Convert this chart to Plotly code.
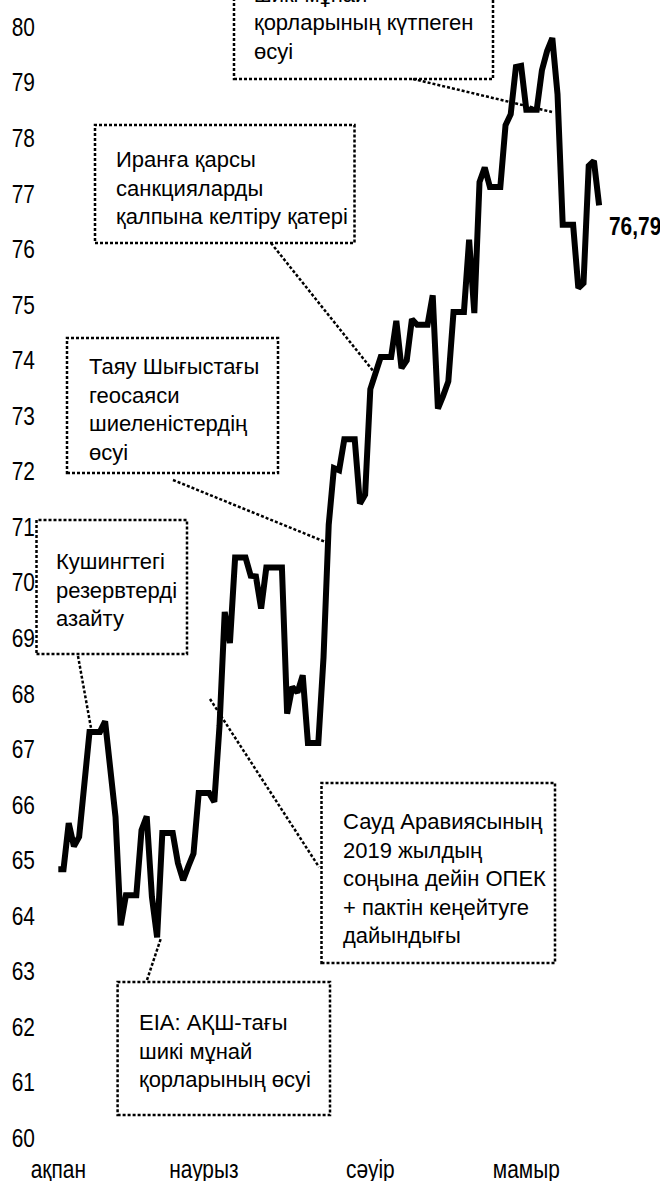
import pandas as pd
import plotly.graph_objects as go

# ---------------- data ----------------
start_date = "2018-02-17"
prices_feb = [64.84, 64.84, 65.67, 65.25, 65.42, 66.39, 67.31, 67.31, 67.31, 67.50, 66.63, 65.78]
prices_mar = [63.83, 64.37, 64.37, 64.37, 65.54, 65.79, 64.34, 63.61, 65.49, 65.49, 65.49,
              64.95, 64.64, 64.89, 65.12, 66.21, 66.21, 66.21, 66.05, 67.42, 69.47, 68.91,
              70.45, 70.45, 70.45, 70.12, 70.11, 69.53, 70.27, 70.27, 70.27]
prices_apr = [70.27, 67.64, 68.12, 68.02, 68.33, 67.11, 67.11, 67.11, 68.65, 71.04, 72.06,
              72.02, 72.58, 72.58, 72.58, 71.42, 71.58, 73.48, 73.78, 74.06, 74.06, 74.06,
              74.71, 73.86, 74.00, 74.74, 74.64, 74.64, 74.64, 75.17]
prices_may = [73.13, 73.36, 73.62, 74.87, 74.87, 74.87, 76.17, 74.85, 77.21, 77.47, 77.12,
              77.12, 77.12, 78.23, 78.43, 79.28, 79.30, 78.51, 78.51, 78.51, 79.22, 79.57,
              79.80, 78.79, 76.44, 76.44, 76.44, 75.30, 75.39, 77.50, 77.59]
prices_jun = [76.79]

month_labels = ["ақпан", "наурыз", "сәуір", "мамыр"]
month_label_dates = ["2018-02-17", "2018-03-17", "2018-04-18", "2018-05-18"]
y_tick_values = list(range(60, 81))
last_value_label = "76,79"

note_texts = [
    "EIA: АҚШ-тағы<br>шикі мұнай<br>қорларының күтпеген<br>өсуі",
    "Иранға қарсы<br>санкцияларды<br>қалпына келтіру қатері",
    "Таяу Шығыстағы<br>геосаяси<br>шиеленістердің<br>өсуі",
    "Кушингтегі<br>резервтерді<br>азайту",
    "Сауд Аравиясының<br>2019 жылдың<br>соңына дейін ОПЕК<br>+ пактін кеңейтуге<br>дайындығы",
    "EIA: АҚШ-тағы<br>шикі мұнай<br>қорларының өсуі",
]

prices = prices_feb + prices_mar + prices_apr + prices_may + prices_jun
dates = pd.date_range(start_date, periods=len(prices), freq="D")

# ---------------- layout helpers (pixel -> paper) ----------------
W, H = 660, 1181
ML, MR, MT, MB = 36, 0, 0, 21
PW, PH = W - ML - MR, H - MT - MB


def px(x):
    return (x - ML) / PW


def py(y):
    return 1 - (y - MT) / PH


FONT = "Liberation Sans, Arial, sans-serif"
DOT = dict(color="black", width=2.5, dash="3px,2px")

fig = go.Figure()
fig.add_trace(go.Scatter(x=dates, y=prices, mode="lines",
                         line=dict(color="black", width=6),
                         hoverinfo="skip", showlegend=False))

boxes = [
    (234, -80, 493, 79),
    (95, 125, 354.5, 243),
    (67, 338, 278, 473),
    (36.5, 520, 187, 654),
    (321.5, 783, 555, 963),
    (117.6, 982, 330, 1115),
]
connectors = [
    (413, 79, 552, 112),
    (271, 243, 374, 372),
    (173, 480, 328, 543),
    (78, 656, 91, 728),
    (210, 699, 319, 867),
    (147, 980, 161, 938),
]
text_pos = [
    (252, 8),
    (114, 188.5),
    (86.5, 409),
    (54, 589.5),
    (341, 878),
    (136.5, 1051),
]

shapes = []
for (x0, y0, x1, y1) in boxes:
    shapes.append(dict(type="rect", xref="paper", yref="paper",
                       x0=px(x0), x1=px(x1), y0=py(y1), y1=py(y0),
                       line=DOT, fillcolor="rgba(0,0,0,0)", layer="above"))
for (x0, y0, x1, y1) in connectors:
    shapes.append(dict(type="line", xref="paper", yref="paper",
                       x0=px(x0), x1=px(x1), y0=py(y0), y1=py(y1),
                       line=DOT, layer="above"))

annotations = []
for txt, (tx, ty) in zip(note_texts, text_pos):
    annotations.append(dict(text=txt, xref="paper", yref="paper",
                            x=px(tx), y=py(ty), xanchor="left", yanchor="middle",
                            align="left", showarrow=False,
                            font=dict(family=FONT, size=22, color="black")))
annotations.append(dict(text="<b>" + last_value_label + "</b>", x=dates[-1], y=prices[-1],
                        xref="x", yref="y", xanchor="left", yanchor="middle", align="left",
                        xshift=8, yshift=-21, showarrow=False,
                        font=dict(family=FONT, size=25.5, color="black")))

y_top = 80 + 27 / 55.55
y_bot = 60 - (PH - 1138) / 55.55

fig.update_layout(
    width=W, height=H,
    margin=dict(l=ML, r=MR, t=MT, b=MB, pad=0),
    paper_bgcolor="white", plot_bgcolor="white",
    font=dict(family=FONT, size=25.5, color="black"),
    shapes=shapes, annotations=annotations,
    xaxis=dict(range=[pd.Timestamp(start_date) - pd.Timedelta(hours=103),
                      pd.Timestamp(start_date) + pd.Timedelta(hours=2777)],
               tickmode="array", tickvals=month_label_dates, ticktext=month_labels,
               showgrid=False, zeroline=False, showline=False, ticks="", automargin=False,
               ticklabelstandoff=-8,
               tickfont=dict(family=FONT, size=25.5, color="black")),
    yaxis=dict(range=[y_bot, y_top], tickmode="array", tickvals=y_tick_values,
               ticktext=[str(v) for v in y_tick_values], automargin=False,
               showgrid=False, zeroline=False, showline=False, ticks="",
               tickfont=dict(family=FONT, size=25.5, color="black")),
    showlegend=False,
)

# emulate a narrow (condensed) face for axis labels and the end-value label
narrow_js = """
document.body.style.margin='0';
var gd = document.getElementById('{plot_id}');
function narrow(el){
  var x = parseFloat(el.getAttribute('x')) || 0;
  var t = el.getAttribute('transform') || '';
  el.setAttribute('transform', t + ' translate(' + x + ',0) scale(0.82,1) translate(' + (-x) + ',0)');
}
gd.querySelectorAll('.xtick text, .ytick text').forEach(narrow);
var anns = gd.querySelectorAll('.annotation');
if (anns.length) { anns[anns.length-1].querySelectorAll('text').forEach(narrow); }
"""

fig.write_html("out.html", config={"displayModeBar": False}, post_script=narrow_js)
